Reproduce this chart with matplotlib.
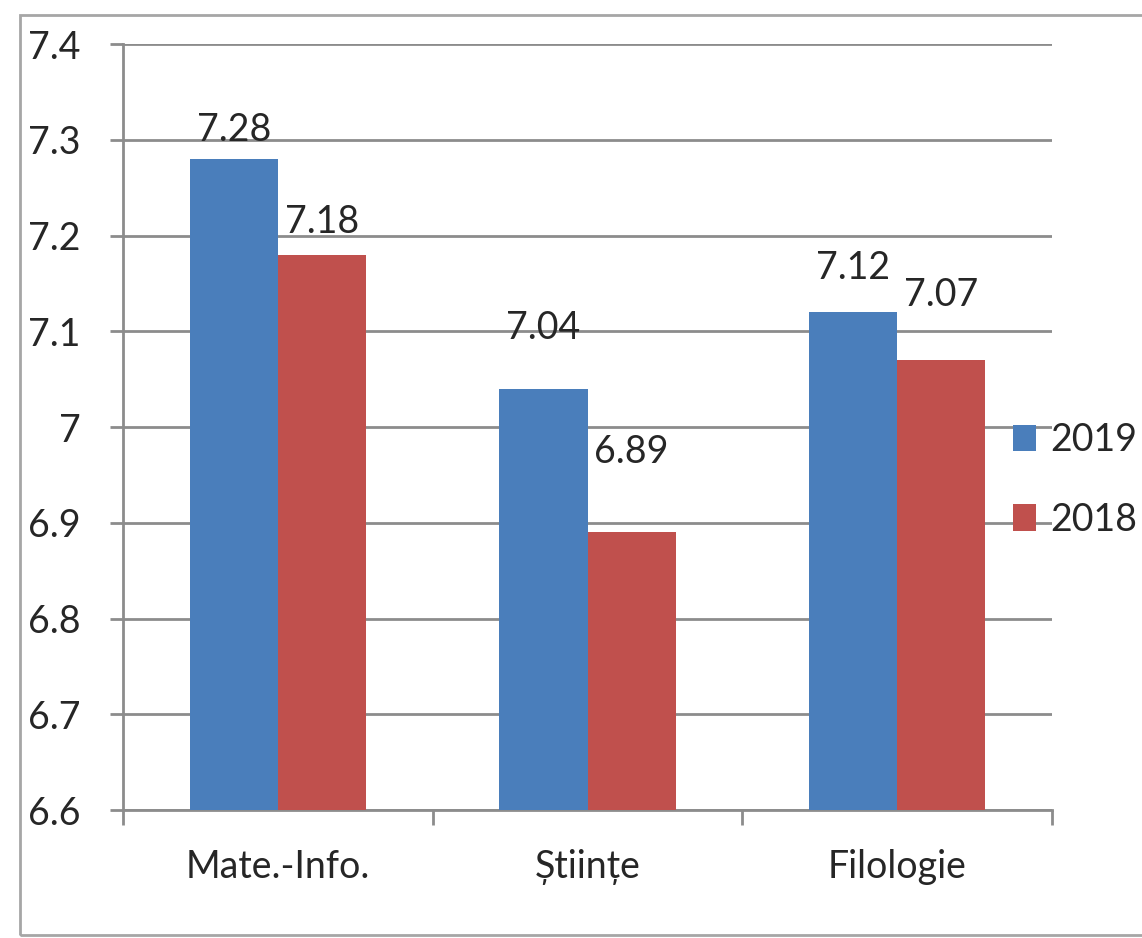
import matplotlib
matplotlib.use("Agg")
import matplotlib.pyplot as plt
import numpy as np
from matplotlib.patches import Rectangle

categories = ["Mate.-Info.", "Științe", "Filologie"]
series_names = ["2019", "2018"]
values_2019 = [7.28, 7.04, 7.12]
values_2018 = [7.18, 6.89, 7.07]
y_ticks = [6.6, 6.7, 6.8, 6.9, 7.0, 7.1, 7.2, 7.3, 7.4]
y_tick_labels = ["6.6", "6.7", "6.8", "6.9", "7", "7.1", "7.2", "7.3", "7.4"]

# label placement (data-y of the value label centres)
label_y_2019 = [7.310, 7.103, 7.166]
label_y_2018 = [7.214, 6.974, 7.138]

FONT = "Lato"
FS = 27
BLUE = "#4a7ebb"
RED = "#c0504d"
GRID = "#8c8c8c"
TXT = "#262626"

W, H = 1142, 938
fig = plt.figure(figsize=(W / 100, H / 100), dpi=100)
fig.patch.set_facecolor("white")

# outer border
fig.add_artist(Rectangle((20 / W, 1 - 935 / H), (1160 - 20) / W, (935 - 15) / H,
                         transform=fig.transFigure, fill=False, edgecolor="#a6a6a6", lw=2))

ax = fig.add_axes([123 / W, 1 - 810 / H, (1052 - 123) / W, (810 - 44) / H])
x = np.arange(len(categories))
bw = 0.285
ax.bar(x - bw / 2, values_2019, bw, color=BLUE, label=series_names[0], zorder=3)
ax.bar(x + bw / 2, values_2018, bw, color=RED, label=series_names[1], zorder=3)

for i in range(len(categories)):
    ax.text(x[i] - bw / 2, label_y_2019[i], f"{values_2019[i]:.2f}", ha="center", va="center",
            fontsize=FS, family=FONT, color=TXT, zorder=4)
    ax.text(x[i] + bw / 2, label_y_2018[i], f"{values_2018[i]:.2f}", ha="center", va="center",
            fontsize=FS, family=FONT, color=TXT, zorder=4)

ax.set_xlim(-0.5, len(categories) - 0.5)
ax.set_ylim(6.6, 7.4)
ax.set_yticks(y_ticks)
ax.set_yticklabels(y_tick_labels, fontsize=FS, family=FONT, color=TXT)
ax.tick_params(axis="y", length=9.5, width=2, color=GRID, pad=21)
ax.grid(axis="y", color=GRID, lw=2, zorder=0)

ax.set_xticks(x)
ax.set_xticklabels(categories, fontsize=FS, family=FONT, color=TXT)
ax.tick_params(axis="x", length=0, pad=28)
ax.set_xticks([-0.5, 0.5, 1.5, 2.5], minor=True)
ax.tick_params(axis="x", which="minor", length=11, width=2, color=GRID)

for s in ["top", "right"]:
    ax.spines[s].set_visible(False)
for s in ["left", "bottom"]:
    ax.spines[s].set_color(GRID)
    ax.spines[s].set_linewidth(2)
ax.spines["left"].set_zorder(1)

leg = ax.legend(loc="center left", bbox_to_anchor=(998 / W, 1 - 480 / H),
                bbox_transform=fig.transFigure, frameon=False,
                prop={"family": FONT, "size": FS}, handlelength=0.62, handleheight=0.7,
                handletextpad=0.37, labelspacing=1.15, borderaxespad=0)
for t in leg.get_texts():
    t.set_color(TXT)

fig.savefig("out.png", dpi=100, facecolor="white")
